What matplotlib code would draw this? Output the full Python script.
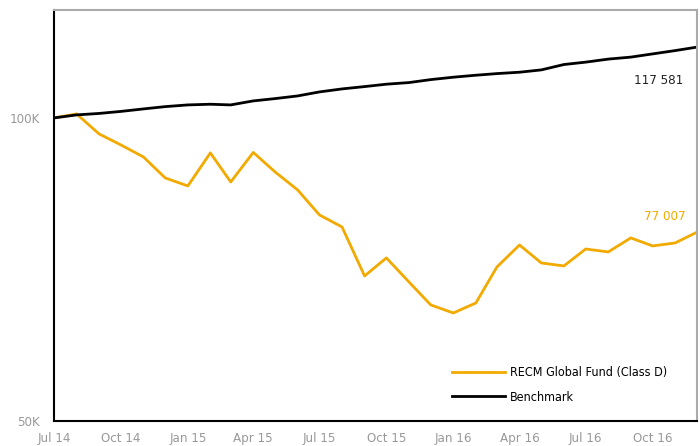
import matplotlib
matplotlib.use('Agg')
import matplotlib.pyplot as plt
import matplotlib.ticker as mticker
import pandas as pd

# Monthly growth of 100K, Jul 2014 - Dec 2016
months = pd.date_range('2014-07-01', '2016-12-01', freq='MS')

fund = [100000, 100920, 96410, 94010, 91460, 87170, 85590, 92310, 86380, 92410,
        88380, 84810, 80100, 77930, 69670, 72600, 68720, 65200, 64010, 65490,
        71120, 74780, 71770, 71280, 74100, 73600, 76000, 74620, 75130, 77007]

benchmark = [100000, 100690, 101030, 101500, 102080, 102620, 103020, 103180, 103020, 103970,
             104520, 105160, 106130, 106860, 107430, 108020, 108420, 109160, 109760, 110260,
             110670, 111020, 111610, 112990, 113610, 114400, 114920, 115770, 116650, 117581]

fund_label = 'RECM Global Fund (Class D)'
bench_label = 'Benchmark'
tick_labels = ['Jul 14', 'Oct 14', 'Jan 15', 'Apr 15', 'Jul 15',
               'Oct 15', 'Jan 16', 'Apr 16', 'Jul 16', 'Oct 16']

yellow = '#F2AA00'
grey = '#999999'

plt.rcParams['font.family'] = ['DejaVu Sans']
plt.rcParams['font.stretch'] = 'condensed'

fig = plt.figure(figsize=(7, 4.46), dpi=100)
ax = fig.add_axes([0.0771, 0.0561, 0.9186, 0.9215])

ax.plot(months, fund, color=yellow, linewidth=2.0, label=fund_label)
ax.plot(months, benchmark, color='black', linewidth=2.0, label=bench_label)

ax.set_yscale('log')
ax.set_ylim(50000, 128000)
ax.set_xlim(months[0], months[-1])

ax.yaxis.set_major_locator(mticker.FixedLocator([50000, 100000]))
ax.yaxis.set_major_formatter(mticker.FixedFormatter(['50K', '100K']))
ax.yaxis.set_minor_locator(mticker.NullLocator())

ax.set_xticks(months[::3])
ax.set_xticklabels(tick_labels)

ax.tick_params(axis='both', length=0, labelsize=9.5, colors=grey)
ax.tick_params(axis='y', pad=10)
ax.tick_params(axis='x', pad=8)

for side in ['top', 'right']:
    ax.spines[side].set_color('#aaaaaa')
    ax.spines[side].set_linewidth(1.5)
for side in ['left', 'bottom']:
    ax.spines[side].set_color('black')
    ax.spines[side].set_linewidth(1.5)

# end values
ax.annotate('117 581', xy=(683, 446 - 81), xycoords='figure pixels',
            ha='right', va='center', fontsize=9.5, color='#222222')
ax.annotate('77 007', xy=(686, 446 - 216), xycoords='figure pixels',
            ha='right', va='center', fontsize=9.5, color=yellow)

leg = ax.legend(loc='center left', bbox_to_anchor=(452 / 700, 1 - 385 / 446),
                bbox_transform=fig.transFigure, frameon=False, fontsize=9,
                handlelength=4.25, handletextpad=0.4, labelspacing=0.9,
                borderpad=0, borderaxespad=0)

fig.savefig('out.png', dpi=100)
plt.close(fig)
